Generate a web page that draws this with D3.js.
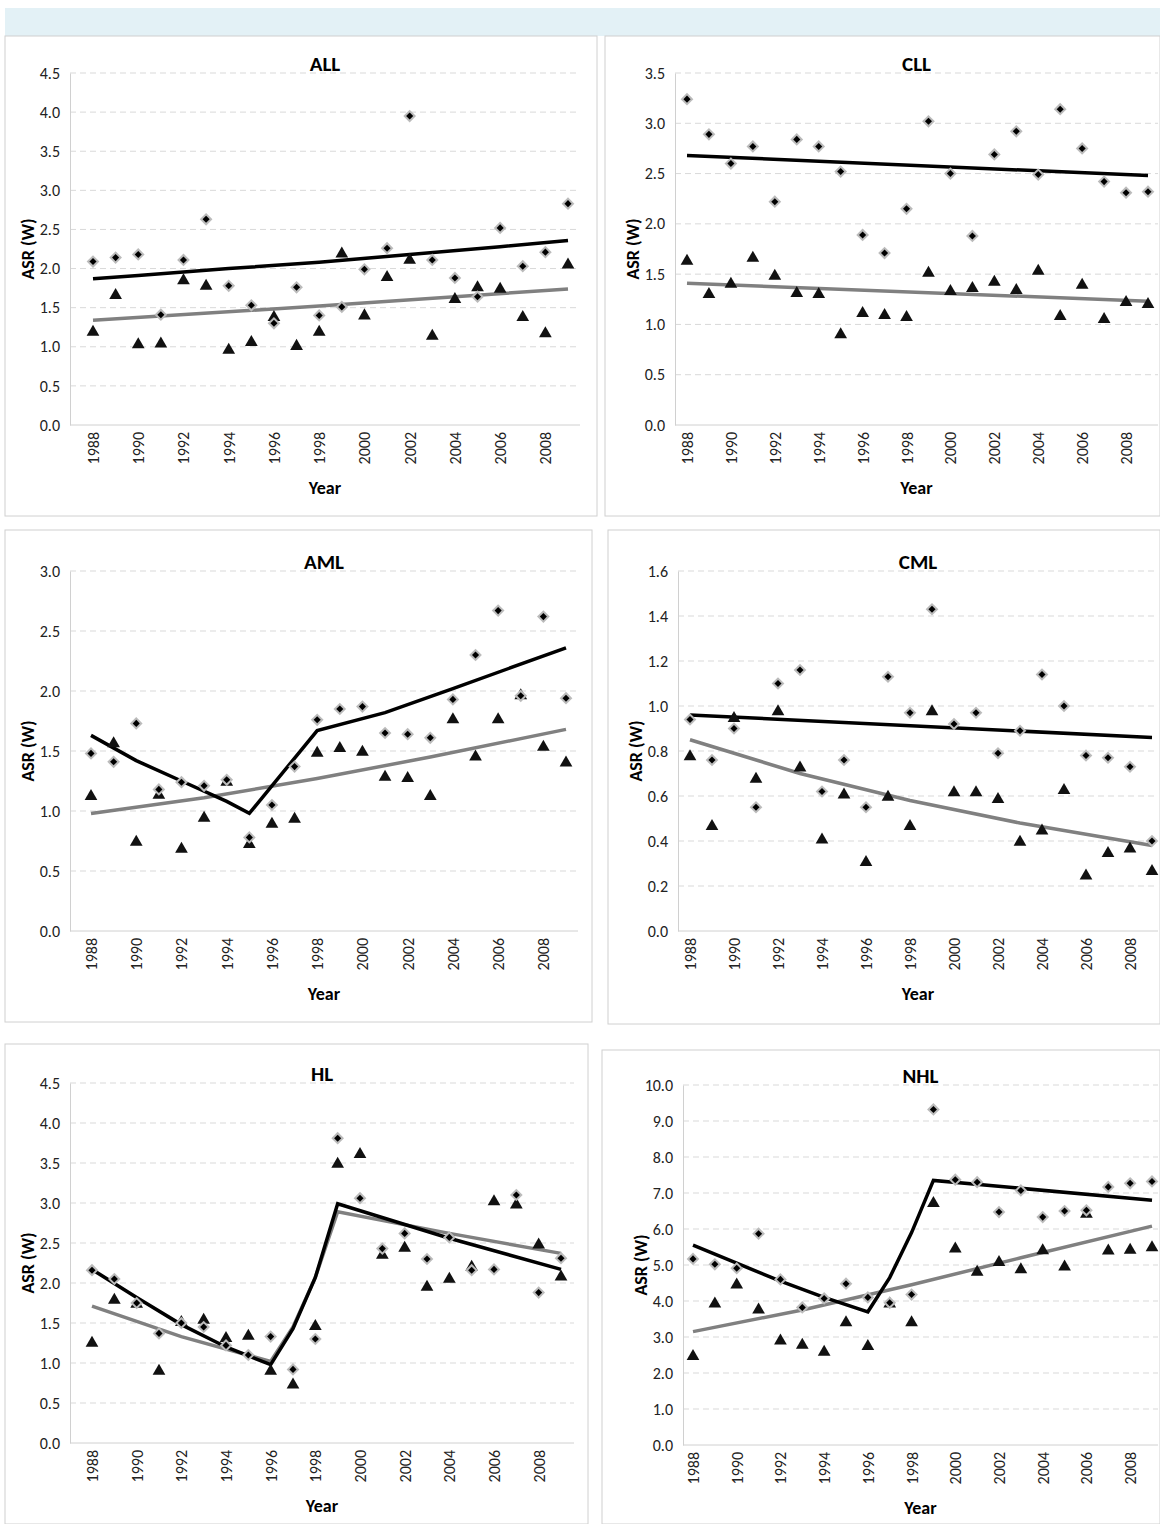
<!DOCTYPE html>
<html><head><meta charset="utf-8">
<script src="https://cdn.jsdelivr.net/npm/d3@7"></script>
<style>body{margin:0;background:#fff;font-family:Carlito,Calibri,"Open Sans",sans-serif}</style>
</head><body><svg id="c" width="1160" height="1524"></svg>
<script>
const years = d3.range(1988, 2010);
const titles = ["ALL","CLL","AML","CML","HL","NHL"];
const yMaxes = [4.5, 3.5, 3.0, 1.6, 4.5, 10.0];
const yStepsArr = [0.5, 0.5, 0.5, 0.2, 0.5, 1.0];
const xTickLabels = [1988,1990,1992,1994,1996,1998,2000,2002,2004,2006,2008];

const diamonds = {
 ALL:[2.09,2.14,2.18,1.41,2.11,2.63,1.78,1.53,1.30,1.76,1.40,1.51,1.99,2.26,3.95,2.11,1.88,1.64,2.52,2.03,2.21,2.83],
 CLL:[3.24,2.89,2.60,2.77,2.22,2.84,2.77,2.52,1.89,1.71,2.15,3.02,2.50,1.88,2.69,2.92,2.49,3.14,2.75,2.42,2.31,2.32],
 AML:[1.48,1.41,1.73,1.18,1.24,1.21,1.26,0.78,1.05,1.37,1.76,1.85,1.87,1.65,1.64,1.61,1.93,2.30,2.67,1.96,2.62,1.94],
 CML:[0.94,0.76,0.90,0.55,1.10,1.16,0.62,0.76,0.55,1.13,0.97,1.43,0.92,0.97,0.79,0.89,1.14,1.00,0.78,0.77,0.73,0.40],
 HL:[2.16,2.05,1.75,1.37,1.50,1.45,1.22,1.10,1.33,0.92,1.30,3.81,3.06,2.43,2.62,2.30,2.57,2.16,2.17,3.10,1.88,2.31],
 NHL:[5.17,5.02,4.91,5.87,4.60,3.82,4.07,4.48,4.10,3.95,4.18,9.32,7.37,7.30,6.47,7.07,6.33,6.50,6.52,7.17,7.27,7.32]
};
const triangles = {
 ALL:[1.20,1.67,1.04,1.05,1.86,1.79,0.97,1.07,1.39,1.02,1.20,2.20,1.41,1.90,2.12,1.15,1.62,1.77,1.75,1.39,1.18,2.06],
 CLL:[1.64,1.31,1.41,1.67,1.49,1.32,1.31,0.91,1.12,1.10,1.08,1.52,1.34,1.37,1.43,1.35,1.54,1.09,1.40,1.06,1.23,1.21],
 AML:[1.13,1.57,0.75,1.14,0.69,0.95,1.25,0.73,0.90,0.94,1.49,1.53,1.50,1.29,1.28,1.13,1.77,1.46,1.77,1.97,1.54,1.41],
 CML:[0.78,0.47,0.95,0.68,0.98,0.73,0.41,0.61,0.31,0.60,0.47,0.98,0.62,0.62,0.59,0.40,0.45,0.63,0.25,0.35,0.37,0.27],
 HL:[1.26,1.80,1.75,0.91,1.52,1.55,1.32,1.35,0.91,0.74,1.47,3.50,3.62,2.36,2.45,1.96,2.06,2.21,3.03,2.99,2.49,2.09],
 NHL:[2.49,3.95,4.48,3.78,2.92,2.80,2.61,3.43,2.77,3.95,3.43,6.74,5.48,4.83,5.10,4.90,5.43,4.98,6.44,5.42,5.44,5.51]
};
// fitted trend lines: [year, value]
const blackTrend = {
 ALL:[[1988,1.87],[1990,1.91],[1994,2.00],[1998,2.08],[2002,2.18],[2006,2.28],[2009,2.36]],
 CLL:[[1988,2.68],[2009,2.48]],
 AML:[[1988,1.63],[1990,1.42],[1992,1.25],[1994,1.08],[1995,0.98],[1998,1.67],[2001,1.82],[2004,2.02],[2009,2.36]],
 CML:[[1988,0.96],[2009,0.86]],
 HL:[[1988,2.17],[1990,1.82],[1992,1.48],[1994,1.20],[1996,0.98],[1997,1.43],[1998,2.07],[1999,2.99],[2004,2.56],[2009,2.17]],
 NHL:[[1988,5.55],[1990,5.05],[1992,4.55],[1994,4.10],[1996,3.70],[1997,4.65],[1998,5.90],[1999,7.35],[2009,6.80]]
};
const grayTrend = {
 ALL:[[1988,1.34],[1998,1.52],[2009,1.74]],
 CLL:[[1988,1.41],[2009,1.23]],
 AML:[[1988,0.98],[1993,1.11],[1998,1.27],[2003,1.45],[2009,1.68]],
 CML:[[1988,0.85],[1993,0.70],[1998,0.58],[2003,0.48],[2009,0.38]],
 HL:[[1988,1.71],[1992,1.33],[1996,1.02],[1997,1.45],[1998,2.07],[1999,2.89],[2004,2.62],[2009,2.37]],
 NHL:[[1988,3.15],[1993,3.75],[1998,4.45],[2003,5.20],[2009,6.08]]
};

const layout = [
 {frame:[5,36,592,480], x0:93, x1:568, left:70, right:580, top:73, bottom:425},
 {frame:[605,36,555,480], x0:687, x1:1148, left:675, right:1158, top:73, bottom:425},
 {frame:[5,530,587,492], x0:91, x1:566, left:70, right:578, top:571, bottom:931},
 {frame:[608,530,552,494], x0:690, x1:1152, left:678, right:1158, top:571, bottom:931},
 {frame:[5,1044,583,480], x0:92, x1:561, left:70, right:574, top:1083, bottom:1443},
 {frame:[602,1050,558,474], x0:693, x1:1152, left:683, right:1158, top:1085, bottom:1445}
];
const FF = "Carlito,Calibri,'Open Sans',sans-serif";
const svg = d3.select("#c").attr("font-family",FF);
svg.append("rect").attr("x",5).attr("y",8).attr("width",1155).attr("height",28).attr("fill","#e3f1f6");

titles.forEach((t,i)=>{
 const L = layout[i];
 const g = svg.append("g");
 g.append("rect").attr("x",L.frame[0]).attr("y",L.frame[1]).attr("width",L.frame[2]).attr("height",L.frame[3])
  .attr("fill","none").attr("stroke","#d0d0d0");
 const x = d3.scaleLinear().domain([1988,2009]).range([L.x0,L.x1]);
 const y = d3.scaleLinear().domain([0,yMaxes[i]]).range([L.bottom,L.top]);
 const ticks = d3.range(0, yMaxes[i]+1e-9, yStepsArr[i]);
 g.selectAll(".gr").data(ticks.slice(1)).join("line")
  .attr("x1",L.left).attr("x2",L.right).attr("y1",d=>y(d)).attr("y2",d=>y(d))
  .attr("stroke","#d9d9d9").attr("stroke-dasharray","6,4");
 const ya = g.append("g").attr("transform",`translate(${L.left},0)`)
  .call(d3.axisLeft(y).tickValues(ticks).tickFormat(d3.format(".1f")).tickSize(0).tickPadding(10));
 ya.select(".domain").attr("stroke","#d0d0d0");
 ya.selectAll("text").attr("font-size",16).attr("fill","#222").attr("font-family",FF);
 g.append("line").attr("x1",L.left).attr("x2",L.right).attr("y1",L.bottom).attr("y2",L.bottom).attr("stroke","#d0d0d0");
 g.selectAll(".xt").data(xTickLabels).join("text")
  .attr("transform",d=>`translate(${x(d)+6},${L.bottom+7}) rotate(-90)`)
  .attr("text-anchor","end").attr("font-size",16).attr("fill","#222").text(d=>d);
 g.append("text").attr("x",(L.left+L.right)/2).attr("y",L.bottom+69).attr("text-anchor","middle")
  .attr("font-size",18).attr("font-weight","bold").text("Year");
 g.append("text").attr("transform",`translate(${L.left-36},${(L.top+L.bottom)/2}) rotate(-90)`)
  .attr("text-anchor","middle").attr("font-size",18).attr("font-weight","bold").text("ASR (W)");
 g.append("text").attr("x",(L.left+L.right)/2).attr("y",L.top-2).attr("text-anchor","middle")
  .attr("font-size",21).attr("font-weight","bold").text(t);
 const line = d3.line().x(d=>x(d[0])).y(d=>y(d[1]));
 g.append("path").attr("d",line(grayTrend[t])).attr("fill","none").attr("stroke","#808080").attr("stroke-width",3.5);
 g.append("path").attr("d",line(blackTrend[t])).attr("fill","none").attr("stroke","#000").attr("stroke-width",3.5);
 g.selectAll(".tr").data(triangles[t]).join("path")
  .attr("d",d3.symbol(d3.symbolTriangle,70)())
  .attr("transform",(d,j)=>`translate(${x(years[j])},${y(d)+1})`).attr("fill","#111");
 const dg = g.selectAll(".dm").data(diamonds[t]).join("g")
  .attr("transform",(d,j)=>`translate(${x(years[j])},${y(d)})`);
 dg.append("rect").attr("x",-4.5).attr("y",-4.5).attr("width",9).attr("height",9).attr("transform","rotate(45)").attr("fill","#bbb");
 dg.append("rect").attr("x",-2.5).attr("y",-2.5).attr("width",5).attr("height",5).attr("transform","rotate(45)").attr("fill","#000");
});
</script></body></html>
